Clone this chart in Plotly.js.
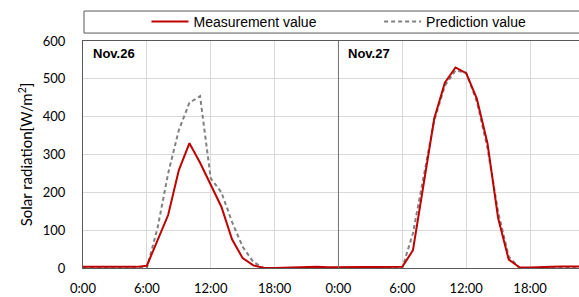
<!DOCTYPE html>
<html>
<head>
<meta charset="utf-8">
<script src="https://cdn.plot.ly/plotly-3.0.1.min.js"></script>
<style>html,body{margin:0;padding:0;background:#fff;}#chart{width:579px;height:297px;}</style>
</head>
<body>
<div id="chart"></div>
<script>
// hours since 0:00 Nov.26
const hours = Array.from({length: 48}, (_, i) => i);
const measurement = [
  3, 3, 3, 3, 3, 3, 6, 72, 140, 258, 330, 278, 222, 162, 76, 26, 7, 0, 0, 1, 2, 3, 3, 2,
  2, 3, 3, 3, 2, 1, 3, 47, 222, 395, 490, 530, 515, 448, 330, 132, 22, 2, 1, 1, 3, 4, 4, 4
];
const prediction = [
  0, 0, 0, 0, 0, 0, 0, 105, 250, 364, 437, 454, 237, 200, 122, 56, 16, 0, 0, 0, 0, 0, 0, 0,
  0, 0, 0, 0, 0, 0, 0, 92, 240, 390, 482, 522, 516, 440, 318, 148, 30, 0, 0, 0, 0, 0, 0, 0
];
const tickHours = [0, 6, 12, 18, 24, 30, 36, 42];
const tickLabels = ['0:00', '6:00', '12:00', '18:00', '0:00', '6:00', '12:00', '18:00'];
const dayLabels = ['Nov.26', 'Nov.27'];
const dayStarts = [0, 24];
const seriesNames = ['Measurement value', 'Prediction value'];

const frame = '#595959';
const traces = [
  {x: hours, y: prediction, name: seriesNames[1], type: 'scatter', mode: 'lines',
   line: {color: '#808080', width: 2, dash: '4px,3px'}, legend: 'legend2'},
  {x: hours, y: measurement, name: seriesNames[0], type: 'scatter', mode: 'lines',
   line: {color: '#c00000', width: 2}, legend: 'legend'}
];

const legFont = {family: 'Liberation Sans, Arial, sans-serif', size: 14, color: '#000'};
const legBase = {orientation: 'h', xanchor: 'left', y: 1.084, yanchor: 'middle',
                 bgcolor: 'rgba(0,0,0,0)', borderwidth: 0, font: legFont, itemwidth: 37};

const layout = {
  width: 579, height: 297,
  margin: {l: 83, r: 0, t: 41, b: 29, pad: 0},
  paper_bgcolor: '#fff', plot_bgcolor: '#fff',
  font: {family: 'Lato, sans-serif', size: 13, color: '#000'},
  showlegend: true,
  legend: Object.assign({}, legBase, {x: 0.128}),
  legend2: Object.assign({}, legBase, {x: 0.597}),
  xaxis: {range: [0, 46.6], tickvals: tickHours, ticktext: tickLabels,
          showgrid: true, gridcolor: '#d9d9d9', gridwidth: 1, zeroline: false,
          showline: true, linecolor: frame, linewidth: 1, mirror: true,
          ticks: '', ticklabelstandoff: 8, fixedrange: true},
  yaxis: {range: [0, 600], dtick: 100, showgrid: true, gridcolor: '#d9d9d9', gridwidth: 1,
          zeroline: false, showline: true, linecolor: frame, linewidth: 1, mirror: false,
          ticks: '', ticklabelstandoff: 14, fixedrange: true,
          title: {text: 'Solar radiation[W/m<sup>2</sup>]', font: {family: 'Lato, sans-serif', size: 15}, standoff: 6}},
  shapes: [
    {type: 'rect', xref: 'paper', yref: 'paper', x0: 0.002, x1: 1.05, y0: 1.035, y1: 1.132,
     line: {color: frame, width: 1}, fillcolor: 'rgba(0,0,0,0)'},
    {type: 'line', xref: 'x', yref: 'paper', x0: dayStarts[1], x1: dayStarts[1], y0: 0, y1: 1,
     line: {color: '#707070', width: 1}}
  ],
  annotations: dayLabels.map((t, i) => ({
    text: '<b>' + t + '</b>', x: dayStarts[i], xref: 'x', xanchor: 'left', xshift: 8,
    y: 1, yref: 'paper', yanchor: 'top', yshift: -3, showarrow: false,
    font: {family: 'Liberation Sans, Arial, sans-serif', size: 13, color: '#000'}
  }))
};

Plotly.newPlot('chart', traces, layout, {staticPlot: true, displayModeBar: false});
</script>
</body>
</html>
